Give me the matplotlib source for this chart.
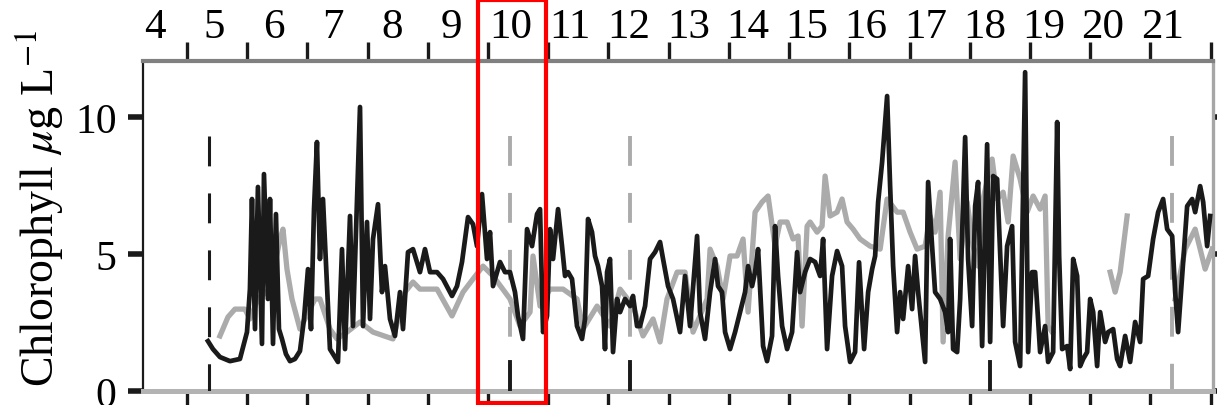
import numpy as np
import matplotlib
matplotlib.use('Agg')
import matplotlib.pyplot as plt
import matplotlib.transforms as mtransforms
from matplotlib.patches import Rectangle

plt.rcParams['font.family'] = ['Liberation Serif', 'DejaVu Serif']
plt.rcParams['mathtext.fontset'] = 'stix'
plt.rcParams['lines.scale_dashes'] = False

# black series (day of month, chlorophyll ug/L)
black_day = [4.849, 4.932, 5.048, 5.214, 5.380, 5.497, 5.546, 5.580, 5.630, 5.679,
             5.746, 5.779, 5.845, 5.879, 5.929, 5.978, 6.028, 6.078, 6.144, 6.211,
             6.294, 6.377, 6.444, 6.510, 6.560, 6.610, 6.659, 6.709, 6.759, 6.875,
             7.008, 7.075, 7.125, 7.208, 7.257, 7.374, 7.424, 7.490, 7.540, 7.590,
             7.673, 7.739, 7.789, 7.872, 7.955, 8.038, 8.088, 8.171, 8.254, 8.370,
             8.453, 8.537, 8.653, 8.753, 8.902, 8.985, 9.068, 9.168, 9.251, 9.317,
             9.400, 9.483, 9.533, 9.583, 9.699, 9.782, 9.865, 9.948, 9.998, 10.081,
             10.148, 10.231, 10.314, 10.364, 10.414, 10.480, 10.530, 10.580, 10.663, 10.729,
             10.779, 10.829, 10.895, 10.978, 11.061, 11.111, 11.161, 11.227, 11.277, 11.327,
             11.394, 11.443, 11.477, 11.526, 11.576, 11.643, 11.693, 11.776, 11.859, 11.908,
             11.975, 12.025, 12.108, 12.191, 12.274, 12.357, 12.407, 12.490, 12.573, 12.689,
             12.772, 12.855, 12.972, 13.021, 13.104, 13.188, 13.271, 13.320, 13.387, 13.437,
             13.520, 13.603, 13.686, 13.769, 13.819, 13.885, 13.935, 13.985, 14.068, 14.134,
             14.217, 14.267, 14.317, 14.384, 14.467, 14.550, 14.633, 14.683, 14.766, 14.849,
             14.932, 15.015, 15.065, 15.131, 15.214, 15.297, 15.380, 15.430, 15.513, 15.596,
             15.662, 15.746, 15.813, 15.879, 15.929, 15.979, 16.045, 16.128, 16.178, 16.228,
             16.294, 16.344, 16.394, 16.477, 16.543, 16.593, 16.643, 16.709, 16.759, 16.809,
             16.875, 16.925, 17.008, 17.091, 17.141, 17.174, 17.224, 17.291, 17.341, 17.424,
             17.473, 17.540, 17.590, 17.639, 17.706, 17.789, 17.839, 17.889, 17.955, 18.005,
             18.055, 18.121, 18.204, 18.254, 18.337, 18.420, 18.470, 18.536, 18.586, 18.669,
             18.752, 18.802, 18.885, 18.952, 18.985, 19.035, 19.118, 19.168, 19.218, 19.284,
             19.334, 19.384, 19.450, 19.500, 19.550, 19.616, 19.666, 19.749, 19.799, 19.882,
             19.948, 19.998, 20.081, 20.164, 20.247, 20.330, 20.380, 20.463, 20.546, 20.629,
             20.712, 20.779, 20.862, 20.912, 20.961, 21.028, 21.111, 21.194, 21.244, 21.327,
             21.377, 21.443, 21.493]
black_chl = [1.82, 1.53, 1.24, 1.09, 1.17, 2.15, 3.72, 7.01, 2.26, 7.45,
             1.72, 7.92, 3.36, 7.01, 1.72, 6.46, 2.26, 1.90, 1.35, 1.09,
             1.17, 1.46, 2.63, 4.45, 2.26, 6.64, 9.09, 4.82, 7.01, 1.53,
             1.06, 5.18, 1.53, 6.39, 2.37, 10.37, 2.37, 6.17, 2.63, 5.55,
             6.82, 3.61, 4.56, 2.63, 2.01, 3.61, 2.26, 5.07, 5.18, 4.34,
             5.18, 4.34, 4.34, 4.09, 3.47, 3.83, 4.71, 6.35, 6.09, 5.29,
             7.19, 4.82, 5.80, 3.83, 4.71, 4.34, 4.34, 3.61, 2.74, 1.90,
             5.91, 5.29, 6.46, 6.64, 2.15, 2.74, 5.91, 4.82, 6.64, 5.29,
             4.20, 4.34, 4.09, 2.37, 1.90, 2.63, 6.28, 5.80, 4.93, 4.56,
             3.83, 1.53, 4.34, 4.82, 1.42, 3.36, 2.88, 3.36, 3.10, 3.47,
             2.37, 2.37, 3.10, 4.82, 5.07, 5.44, 4.82, 3.83, 3.36, 2.15,
             4.20, 2.37, 5.66, 2.88, 1.90, 3.61, 4.82, 3.83, 3.61, 2.15,
             1.53, 2.15, 2.88, 3.61, 4.56, 3.83, 4.34, 5.18, 1.64, 1.09,
             2.01, 6.02, 4.20, 2.37, 1.53, 2.15, 5.07, 3.61, 4.34, 4.82,
             4.71, 4.20, 5.55, 1.53, 4.20, 5.11, 4.56, 2.37, 1.06, 1.42,
             4.70, 1.53, 3.61, 4.45, 4.93, 6.90, 8.36, 10.77, 7.48, 4.56,
             2.15, 3.61, 2.63, 4.56, 2.99, 4.93, 3.61, 2.15, 1.06, 7.63,
             5.29, 3.61, 3.36, 2.88, 2.15, 5.55, 1.53, 1.42, 3.36, 9.27,
             4.82, 2.37, 6.75, 7.63, 1.64, 9.01, 1.79, 7.85, 7.74, 5.07,
             2.37, 5.29, 6.02, 1.79, 0.91, 11.64, 1.42, 4.34, 4.34, 1.42,
             2.37, 1.06, 1.42, 9.82, 4.93, 1.53, 1.64, 0.80, 4.82, 4.20,
             0.91, 1.17, 1.42, 3.36, 2.88, 0.91, 2.88, 1.79, 2.15, 2.26,
             1.17, 0.91, 2.01, 1.06, 2.52, 1.79, 4.09, 4.20, 5.55, 6.53,
             7.01, 5.91, 5.66, 3.61, 2.15, 4.20, 6.75, 7.01, 6.53, 7.48,
             6.90, 5.29, 6.39]

# gray series (nan = gap in record)
gray_day = [5.048, 5.181, 5.297, 5.463, 5.546, 5.679, 5.879, 6.045, 6.095, 6.161,
            6.244, 6.377, 6.460, 6.543, 6.627, 6.709, 6.875, 6.992, 7.158, 7.374,
            7.590, 7.922, 8.121, 8.254, 8.370, 8.653, 8.902, 9.085, 9.251, 9.417,
            9.583, 9.782, 9.865, 10.031, 10.198, 10.247, 10.364, 10.530, 10.746, 10.978,
            11.078, 11.311, 11.526, 11.693, 11.908, 12.075, 12.241, 12.357, 12.473, 12.640,
            12.772, 12.905, 13.138, 13.188, 13.304, 13.404, 13.520, 13.636, 13.736, 13.819,
            13.935, 14.051, 14.151, 14.267, 14.350, 14.467, 14.566, 14.649, 14.716, 14.799,
            14.849, 14.965, 15.048, 15.098, 15.181, 15.297, 15.380, 15.463, 15.563, 15.679,
            15.845, 16.012, 16.128, 16.294, 16.394, 16.510, 16.626, 16.759, 16.842, 16.925,
            17.008, 17.058, 17.141, 17.257, 17.341, 17.457, 17.557, 17.639, 17.722, 17.872,
            17.955, 18.055, 18.138, 18.221, 18.337, 18.453, 18.553, 18.669, 18.752, 18.802,
            18.868, 19.300, 19.832, 19.915, 19.998, 20.114, 20.500, 20.912, 21.078, 21.244,
            21.410, 21.526]
gray_chl = [2.01, 2.70, 2.99, 2.99, 2.63, 3.36, 3.72, 5.55, 5.91, 4.45,
            3.36, 2.26, 2.63, 2.99, 3.36, 3.36, 2.26, 1.90, 2.15, 2.52,
            2.15, 1.90, 3.61, 3.98, 3.72, 3.72, 2.74, 3.61, 4.09, 4.56,
            4.20, 3.61, 3.36, 2.37, 2.88, 4.93, 3.10, 3.72, 3.72, 3.36,
            2.26, 3.10, 2.37, 3.72, 3.10, 2.01, 2.63, 1.79, 3.36, 4.34,
            4.34, 2.15, 3.36, 5.18, 4.56, 3.36, 4.93, 4.93, 5.55, 2.88,
            6.53, 6.90, 7.12, 5.29, 6.17, 6.17, 5.55, 5.66, 2.37, 6.02,
            6.17, 5.80, 6.02, 7.85, 6.39, 6.53, 7.01, 6.17, 5.91, 5.55,
            5.29, 5.18, 7.01, 6.53, 6.53, 5.80, 5.18, 5.29, 6.39, 5.80,
            7.26, 1.79, 5.66, 8.36, 4.82, 6.90, 5.29, 4.56, 7.01, 8.47,
            7.01, 7.26, 6.17, 8.58, 7.74, 6.53, 7.12, 6.64, 7.12, 2.37,
            2.15, np.nan, 4.34, 3.61, 4.34, 6.39, np.nan, 3.36, 5.18, 5.91,
            4.45, 5.18]

day_labels = list(range(4, 22))
start_day = 4.865                       # black dashed marker
gray_event_days = [9.865, 11.86, 20.86]  # gray dashed markers
stub_days = [9.865, 11.86, 17.84]        # short black marks at the base
highlight = (9.33, 10.46)                # red box

fig = plt.figure(figsize=(12.17, 4.06), dpi=100)
ax = fig.add_axes([0.1175, 0.0345, 0.8792, 0.8128])

ax.plot(gray_day, gray_chl, color='#ababab', linewidth=3.8, solid_joinstyle='round', zorder=2)
ax.plot(black_day, black_chl, color='#1a1a1a', linewidth=3.4, solid_joinstyle='round', zorder=3)

# event markers
ax.plot([start_day, start_day], [9.3, 0], color='#1a1a1a', linewidth=2.2,
        dashes=(21.5, 19.5), zorder=4)
for d in gray_event_days:
    ax.plot([d, d], [9.3, 0], color='#ababab', linewidth=2.8,
            dashes=(21.5, 19.5), zorder=1)
for d in stub_days:
    ax.plot([d, d], [0, 1.06], color='#1a1a1a', linewidth=2.8, zorder=4)

ax.set_xlim(3.77, 21.54)
ax.set_ylim(0, 12.05)

# axes styling
ax.spines['left'].set_color('#1a1a1a')
ax.spines['left'].set_linewidth(1.6)
ax.spines['top'].set_color('#808080')
ax.spines['top'].set_linewidth(3.0)
ax.spines['bottom'].set_color('#b3b3b3')
ax.spines['bottom'].set_linewidth(3.6)
ax.spines['right'].set_color('#a6a6a6')
ax.spines['right'].set_linewidth(2.4)

ax.set_yticks([0, 5, 10])
ax.tick_params(axis='y', which='major', direction='out', length=11, width=4,
               color='#1a1a1a', labelsize=30, pad=8, right=True)
ax.tick_params(axis='y', which='major', labelright=False)

ax.set_xticks([d + 0.5 for d in day_labels])
ax.set_xticklabels([])
ax.set_xticks([d - 0.03 - 0.016 * (d - 4) for d in day_labels], minor=True)
ax.set_xticklabels([str(d) for d in day_labels], minor=True)
ax.tick_params(axis='x', which='major', direction='out', length=14, width=2.4,
               color='#1a1a1a', top=True, bottom=True)
ax.tick_params(axis='x', which='minor', length=0, labelsize=31, pad=10.5,
               top=True, bottom=False, labeltop=True, labelbottom=False)

ax.set_ylabel(r'Chlorophyll $\mu$g L$^{-1}$', fontsize=33)
ax.yaxis.set_label_coords(-0.072, 0.555)

# highlighted window
trans = mtransforms.blended_transform_factory(ax.transData, ax.transAxes)
ax.add_patch(Rectangle((highlight[0], -0.036), highlight[1] - highlight[0], 1.221,
                       transform=trans, fill=False, edgecolor='red', linewidth=3,
                       clip_on=False, zorder=10))

fig.savefig('out.png', dpi=100)
